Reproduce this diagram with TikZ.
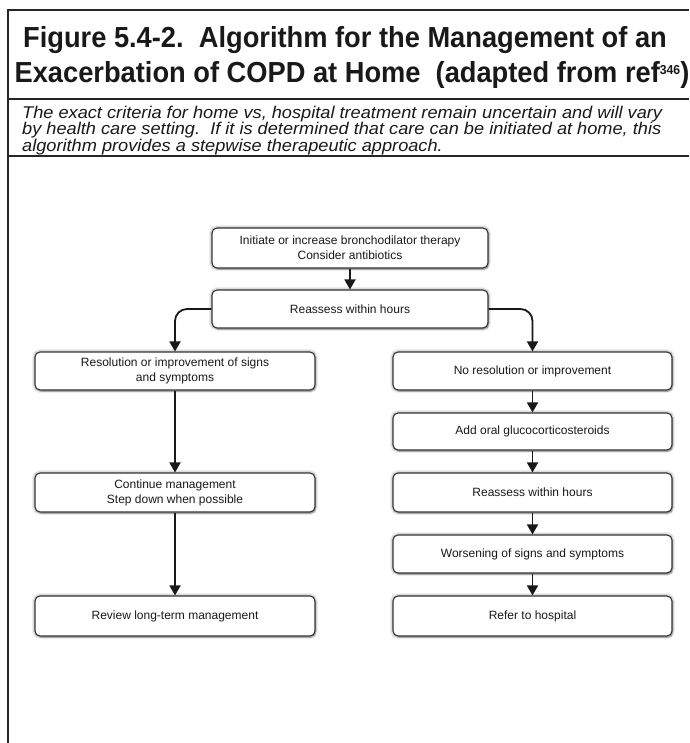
\documentclass[tikz,border=0pt]{standalone}
\usepackage{fontspec}
\setmainfont{Liberation Sans}
\newfontfamily\titlefont[FakeStretch=0.94]{Liberation Sans}
\newfontfamily\capfont[FakeStretch=1.07]{Liberation Sans}
\usetikzlibrary{shadows,arrows.meta}
\frenchspacing
\begin{document}
\begin{tikzpicture}[x=1pt,y=-1pt,
  frame/.style={line width=2pt, draw=black!85},
  box/.style={draw=black!80, line width=1.1pt, rounded corners=5pt, fill=white,
    align=center, inner sep=0pt, font=\fontsize{12}{15}\selectfont, text=black!90,
    preaction={draw=black, opacity=0.07, line width=6pt},
    preaction={draw=black, opacity=0.10, line width=3.5pt},
    drop shadow={shadow xshift=1.2pt, shadow yshift=-1.8pt, opacity=0.4, fill=black!60}},
  colL/.style={box, minimum width=280pt},
  colR/.style={box, minimum width=279pt},
  arr/.style={line width=1.8pt, draw=black!90, -{Triangle[width=11pt,length=10pt]}},
  titleline/.style={anchor=base, inner sep=0pt, font=\titlefont\bfseries\fontsize{29}{34}\selectfont, text=black!90},
  capline/.style={anchor=base west, inner sep=0pt, font=\capfont\itshape\fontsize{17}{17}\selectfont, text=black!90},
]
\useasboundingbox (0,0) rectangle (689,743);
% frame
\coordinate (fTL) at (8,10);
\coordinate (fBL) at (8,743);
\coordinate (fTR) at (689,10);
\coordinate (s1L) at (8,99);
\coordinate (s1R) at (689,99);
\coordinate (s2L) at (8,156);
\coordinate (s2R) at (689,156);
\draw[frame] (fTR) -- (fTL) -- (fBL);
\draw[frame] (s1L) -- (s1R);
\draw[frame] (s2L) -- (s2R);
% title
\node[titleline] (t1) at (345,48) {Figure 5.4-2.~ Algorithm for the Management of an};
\node[titleline] (t2) at (352,83) {Exacerbation of COPD at Home~ (adapted from ref\raisebox{8pt}{\fontsize{13}{13}\selectfont 346})};
% caption
\node[capline] (c1) at (22,118.5) {The exact criteria for home vs, hospital treatment remain uncertain and will vary};
\node[capline] (c2) at (22,135) {by health care setting.~ If it is determined that care can be initiated at home, this};
\node[capline] (c3) at (22,151.5) {algorithm provides a stepwise therapeutic approach.};
% boxes
\node[box, minimum width=276pt, minimum height=40pt] (b1) at (350,248) {Initiate or increase bronchodilator therapy\\Consider antibiotics};
\node[box, minimum width=276pt, minimum height=38pt] (b2) at (350,309) {Reassess within hours};
\node[colL, minimum height=38pt] (a1) at (175,371) {Resolution or improvement of signs\\and symptoms};
\node[colL, minimum height=39pt] (a2) at (175,492.5) {Continue management\\Step down when possible};
\node[colL, minimum height=40pt] (a3) at (175,616) {Review long-term management};
\node[colR, minimum height=38pt] (r1) at (532.5,371) {No resolution or improvement};
\node[colR, minimum height=37pt] (r2) at (532.5,431.5) {Add oral glucocorticosteroids};
\node[colR, minimum height=39pt] (r3) at (532.5,492.5) {Reassess within hours};
\node[colR, minimum height=38pt] (r4) at (532.5,554) {Worsening of signs and symptoms};
\node[colR, minimum height=40pt] (r5) at (532.5,616) {Refer to hospital};
% connectors
\draw[arr] (b1) -- (b2);
\draw[arr, rounded corners=12pt] (b2.west) -| (a1.north);
\draw[arr, rounded corners=12pt] (b2.east) -| (r1.north);
\draw[arr] (a1) -- (a2);
\draw[arr] (a2) -- (a3);
\draw[arr] (r1) -- (r2);
\draw[arr] (r2) -- (r3);
\draw[arr] (r3) -- (r4);
\draw[arr] (r4) -- (r5);
\end{tikzpicture}
\end{document}
